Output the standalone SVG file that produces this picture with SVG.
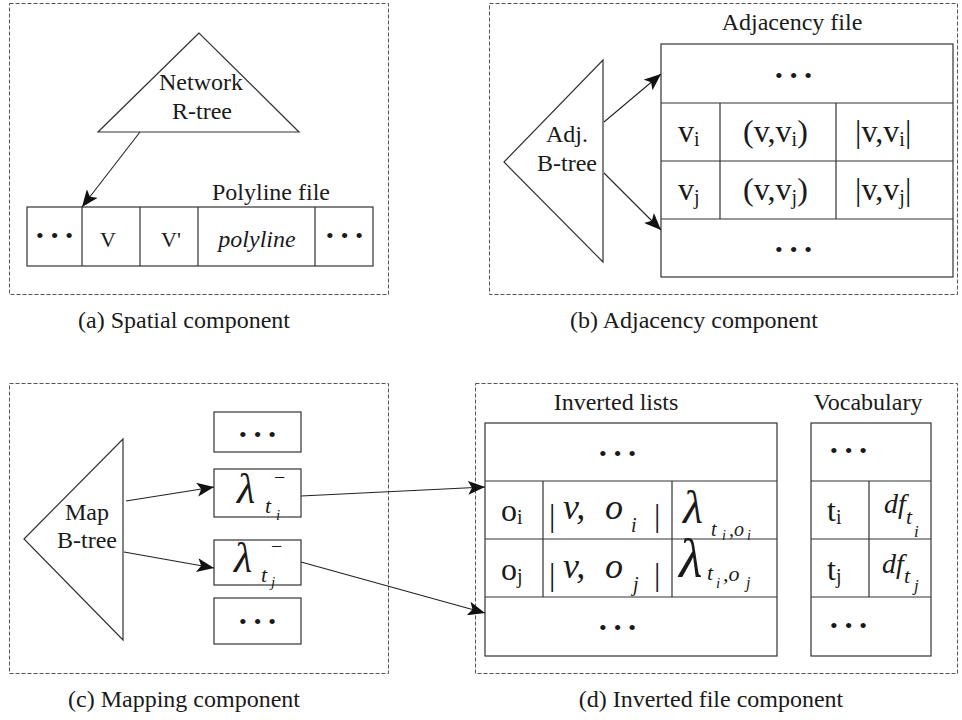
<svg xmlns="http://www.w3.org/2000/svg" width="962" height="720" viewBox="0 0 962 720">
<style>
text{font-family:"Liberation Serif","Times New Roman",serif;fill:#1a1a1a}
.lb{font-size:24px}
.cap{font-size:24px;text-anchor:middle}
.mid{text-anchor:middle}
.dots{font-size:22px;letter-spacing:7px}
.it{font-style:italic}
.dash{fill:none;stroke:#555;stroke-width:1;stroke-dasharray:4 2}
.box{fill:#fff;stroke:#333;stroke-width:1.2}
.ln{stroke:#333;stroke-width:1.2;fill:none}
.con{stroke:#222;stroke-width:1.1;fill:none;marker-end:url(#ah)}
</style>
<defs>
<marker id="ah" markerUnits="userSpaceOnUse" markerWidth="18" markerHeight="14" refX="17" refY="7" orient="auto">
<path d="M0,0 L17,7 L0,14 L4,7 z" fill="#111"/>
</marker>
</defs>
<rect width="962" height="720" fill="#fff"/>

<!-- Panel frames -->
<g id="frames">
<rect class="dash" x="9.5" y="3.5" width="379" height="291"/>
<rect class="dash" x="489.5" y="3.5" width="468" height="291"/>
<rect class="dash" x="9.5" y="383.5" width="379" height="290"/>
<rect class="dash" x="475.5" y="383.5" width="482" height="290"/>
</g>

<!-- (a) Spatial component -->
<g id="network-rtree">
<polygon class="box" points="199,33 98,132 299,132"/>
<text class="lb mid" x="201" y="90">Network</text>
<text class="lb mid" x="202" y="119">R-tree</text>
</g>
<g id="polyline-file">
<text class="lb mid" x="271" y="200">Polyline file</text>
<rect class="box" x="27" y="207" width="346" height="59"/>
<path class="ln" d="M82,207V266M140,207V266M198,207V266M315,207V266"/>
<text class="dots mid" x="58" y="243">•••</text>
<text class="mid" x="108" y="247" font-size="22">V</text>
<text class="mid" x="171" y="247" font-size="22">V'</text>
<text class="lb mid it" x="257" y="247">polyline</text>
<text class="dots mid" x="348" y="243">•••</text>
</g>
<text class="cap" x="184" y="328">(a) Spatial component</text>

<!-- (b) Adjacency component -->
<g id="adj-btree">
<polygon class="box" points="504,162 603,60 603,262"/>
<text class="lb mid" x="567" y="142">Adj.</text>
<text class="lb mid" x="567" y="171">B-tree</text>
</g>
<g id="adjacency-file">
<text class="lb mid" x="792" y="30">Adjacency file</text>
<rect class="box" x="661" y="44" width="292" height="233"/>
<path class="ln" d="M661,103H953M661,161H953M661,219H953M720,103V219M836,103V219"/>
<text class="dots mid" x="797" y="83">•••</text>
<text x="678" y="142" font-size="32">v<tspan font-size="20" dy="4">i</tspan></text>
<text x="743" y="142" font-size="32">(v,v<tspan font-size="20" dy="4">i</tspan><tspan dy="-4">)</tspan></text>
<text x="855" y="142" font-size="32">|v,v<tspan font-size="20" dy="4">i</tspan><tspan dy="-4">|</tspan></text>
<text x="678" y="200" font-size="32">v<tspan font-size="20" dy="4">j</tspan></text>
<text x="743" y="200" font-size="32">(v,v<tspan font-size="20" dy="4">j</tspan><tspan dy="-4">)</tspan></text>
<text x="855" y="200" font-size="32">|v,v<tspan font-size="20" dy="4">j</tspan><tspan dy="-4">|</tspan></text>
<text class="dots mid" x="797" y="257">•••</text>
</g>
<text class="cap" x="694" y="328">(b) Adjacency component</text>

<!-- (c) Mapping component -->
<g id="map-btree">
<polygon class="box" points="24,539 123,439 123,640"/>
<text class="lb mid" x="87" y="520">Map</text>
<text class="lb mid" x="87" y="548">B-tree</text>
</g>
<g id="map-entries">
<rect class="box" x="214" y="412" width="87" height="40"/>
<text class="dots mid" x="261" y="442">•••</text>
<rect class="box" x="214" y="469" width="87" height="48"/>
<text x="237" y="503" font-size="42" class="it">λ</text>
<text x="274" y="484" font-size="20">−</text>
<text x="265" y="513" font-size="22" class="it">t</text>
<text x="276" y="520" font-size="15" class="it">i</text>
<rect class="box" x="214" y="540" width="87" height="45"/>
<text x="234" y="572" font-size="42" class="it">λ</text>
<text x="271" y="553" font-size="20">−</text>
<text x="261" y="582" font-size="22" class="it">t</text>
<text x="271" y="587" font-size="15" class="it">j</text>
<rect class="box" x="214" y="598" width="87" height="46"/>
<text class="dots mid" x="261" y="629">•••</text>
</g>
<text class="cap" x="184" y="707">(c) Mapping component</text>

<!-- (d) Inverted file component -->
<g id="inverted-lists">
<text class="lb mid" x="616" y="410">Inverted lists</text>
<rect class="box" x="485" y="423" width="292" height="233"/>
<path class="ln" d="M485,481H777M485,539H777M485,597H777M543,481V597M672,481V597"/>
<text class="dots mid" x="621" y="461">•••</text>
<text x="501" y="521" font-size="32">o<tspan font-size="20" dy="3">i</tspan></text>
<text x="549" y="526" font-size="32">|</text>
<text x="563" y="519" font-size="36" class="it">v,</text>
<text x="605" y="519" font-size="36" class="it">o</text>
<text x="631" y="532" font-size="20" class="it">i</text>
<text x="654" y="526" font-size="32">|</text>
<text x="683" y="523" font-size="46" class="it">λ</text>
<text x="711" y="536" font-size="20" class="it">t</text>
<text x="722" y="540" font-size="14" class="it">i</text>
<text x="729" y="536" font-size="20" class="it">,o</text>
<text x="747" y="540" font-size="14" class="it">i</text>
<text x="501" y="580" font-size="32">o<tspan font-size="20" dy="3">j</tspan></text>
<text x="549" y="585" font-size="32">|</text>
<text x="563" y="578" font-size="36" class="it">v,</text>
<text x="605" y="578" font-size="36" class="it">o</text>
<text x="633" y="591" font-size="20" class="it">j</text>
<text x="654" y="585" font-size="32">|</text>
<text x="679" y="577" font-size="54" class="it">λ</text>
<text x="707" y="580" font-size="22" class="it">t</text>
<text x="716" y="588" font-size="15" class="it">i</text>
<text x="723" y="581" font-size="22" class="it">,o</text>
<text x="746" y="588" font-size="16" class="it">j</text>
<text class="dots mid" x="621" y="635">•••</text>
</g>
<g id="vocabulary">
<text class="lb mid" x="868" y="410">Vocabulary</text>
<rect class="box" x="811" y="423" width="120" height="233"/>
<path class="ln" d="M811,481H931M811,539H931M811,597H931M869,481V597"/>
<text class="dots mid" x="852" y="458">•••</text>
<text x="827" y="521" font-size="32">t<tspan font-size="20" dy="3">i</tspan></text>
<text x="884" y="513" font-size="28" class="it">df</text>
<text x="906" y="524" font-size="22" class="it">t</text>
<text x="914" y="537" font-size="17" class="it">i</text>
<text x="827" y="580" font-size="32">t<tspan font-size="20" dy="3">j</tspan></text>
<text x="882" y="573" font-size="28" class="it">df</text>
<text x="904" y="583" font-size="22" class="it">t</text>
<text x="914" y="591" font-size="17" class="it">j</text>
<text class="dots mid" x="852" y="633">•••</text>
</g>
<text class="cap" x="711" y="707">(d) Inverted file component</text>

<!-- Connectors -->
<g id="connectors">
<line class="con" x1="140" y1="132" x2="82" y2="207"/>
<line class="con" x1="604" y1="122" x2="661" y2="74"/>
<line class="con" x1="604" y1="173" x2="661" y2="230"/>
<line class="con" x1="126" y1="501" x2="214" y2="487"/>
<line class="con" x1="124" y1="552" x2="214" y2="568"/>
<line class="con" x1="301" y1="496" x2="485" y2="487"/>
<line class="con" x1="301" y1="562" x2="485" y2="613"/>
</g>
</svg>
